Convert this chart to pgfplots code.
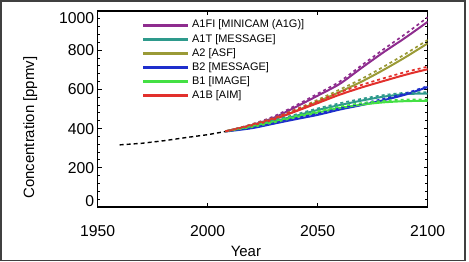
\documentclass[border=0pt]{standalone}
\usepackage{pgfplots}
\pgfplotsset{compat=1.18}
\usepackage{fontspec}
\setmainfont{Liberation Sans}

\definecolor{cA1FI}{HTML}{8E2C8E}
\definecolor{cA1T}{HTML}{2E9A8C}
\definecolor{cA2}{HTML}{9A9A36}
\definecolor{cB2}{HTML}{1E2ECC}
\definecolor{cB1}{HTML}{44E044}
\definecolor{cA1B}{HTML}{E2302C}

\begin{document}
\begin{tikzpicture}
\useasboundingbox (0,0) rectangle (469bp,262bp);
\begin{axis}[
  at={(97.7bp,55bp)}, anchor=south west,
  scale only axis, width=330bp, height=196bp,
  xmin=1950, xmax=2100, ymin=0, ymax=1000,
  xtick={1950,2000,2050,2100},
  ytick={0,200,...,1000},
  minor y tick num=4,
  tick align=inside,
  major tick length=4bp, minor tick length=2.5bp,
  axis line style={line width=1.3bp},
  every tick/.style={black, line width=1bp},
  /pgf/number format/assume math mode=true,
  /pgf/number format/1000 sep={},
  tick label style={font=\fontsize{15.8}{17}\selectfont},
  xticklabel style={yshift=-15bp},
  yticklabel={\ifnum\ticknum=0 \raisebox{6bp}[\height][\depth]{0}\else
    \ifnum\ticknum=5 \raisebox{-7bp}[\height][\depth]{1000}\else
    \pgfmathprintnumber{\tick}\fi\fi},
  xlabel={Year},
  ylabel={Concentration [ppmv]},
  label style={font=\fontsize{15}{17}\selectfont},
  xlabel style={at={(axis description cs:0.449,-0.226)}, anchor=center},
  ylabel style={at={(axis description cs:-0.204,0.405)}, anchor=center},
  legend style={draw=none, fill=none, at={(axis description cs:0.136,0.965)},
    anchor=north west, font=\fontsize{11}{12}\selectfont,
    row sep=0.7bp, inner sep=0pt},
  legend cell align=left,
  legend image code/.code={\fill[#1] (0bp,-1bp) rectangle (44bp,1bp);},
]
% legend keys
\addlegendimage{cA1FI}
\addlegendentry{\hspace{3bp}A1FI [MINICAM (A1G)]}
\addlegendimage{cA1T}
\addlegendentry{\hspace{3bp}A1T [MESSAGE]}
\addlegendimage{cA2}
\addlegendentry{\hspace{3bp}A2 [ASF]}
\addlegendimage{cB2}
\addlegendentry{\hspace{3bp}B2 [MESSAGE]}
\addlegendimage{cB1}
\addlegendentry{\hspace{3bp}B1 [IMAGE]}
\addlegendimage{cA1B}
\addlegendentry{\hspace{3bp}A1B [AIM]}

% observed record
\addplot[black, line width=1.4bp, dash pattern=on 4bp off 3bp, forget plot]
  coordinates {(1960,317) (1970,325) (1980,338) (1990,354) (2000,369) (2008,385)};

% scenario projections (solid)
\addplot[cA1FI, line width=2bp, smooth, forget plot] coordinates {
 (2008,386) (2020,418) (2030,455) (2040,510) (2050,568) (2060,628) (2070,710) (2080,790) (2090,865) (2100,945)};
\addplot[cA1T, line width=2bp, smooth, forget plot] coordinates {
 (2008,386) (2020,410) (2030,437) (2040,465) (2050,495) (2060,520) (2070,543) (2080,563) (2090,576) (2100,579)};
\addplot[cA2, line width=2bp, smooth, forget plot] coordinates {
 (2008,386) (2020,417) (2030,448) (2040,490) (2050,537) (2060,587) (2070,640) (2080,700) (2090,765) (2100,835)};
\addplot[cB2, line width=2bp, smooth, forget plot] coordinates {
 (2008,385) (2020,402) (2030,425) (2040,448) (2050,470) (2060,497) (2070,520) (2080,545) (2090,574) (2100,612)};
\addplot[cB1, line width=2bp, smooth, forget plot] coordinates {
 (2008,386) (2020,408) (2030,432) (2040,458) (2050,482) (2060,505) (2070,522) (2080,534) (2090,540) (2100,542)};
\addplot[cA1B, line width=2bp, smooth, forget plot] coordinates {
 (2008,386) (2020,416) (2030,447) (2040,488) (2050,530) (2060,573) (2070,610) (2080,643) (2090,675) (2100,703)};

% companion runs (dashed)
\addplot[cA1FI, line width=1.7bp, dash pattern=on 3bp off 3bp, smooth, forget plot] coordinates {
 (2010,390) (2020,422) (2030,462) (2040,518) (2050,578) (2060,640) (2070,723) (2080,805) (2090,884) (2100,968)};
\addplot[cA1T, line width=1.7bp, dash pattern=on 3bp off 3bp, smooth, forget plot] coordinates {
 (2010,390) (2020,414) (2030,442) (2040,472) (2050,503) (2060,529) (2070,552) (2080,571) (2090,583) (2100,586)};
\addplot[cA2, line width=1.7bp, dash pattern=on 3bp off 3bp, smooth, forget plot] coordinates {
 (2010,390) (2020,421) (2030,454) (2040,498) (2050,547) (2060,599) (2070,654) (2080,716) (2090,782) (2100,852)};
\addplot[cB2, line width=1.7bp, dash pattern=on 3bp off 3bp, smooth, forget plot] coordinates {
 (2010,389) (2020,405) (2030,429) (2040,453) (2050,476) (2060,503) (2070,527) (2080,552) (2090,580) (2100,617)};
\addplot[cB1, line width=1.7bp, dash pattern=on 3bp off 3bp, smooth, forget plot] coordinates {
 (2010,390) (2020,412) (2030,437) (2040,464) (2050,489) (2060,512) (2070,530) (2080,542) (2090,548) (2100,549)};
\addplot[cA1B, line width=1.7bp, dash pattern=on 3bp off 3bp, smooth, forget plot] coordinates {
 (2010,390) (2020,420) (2030,453) (2040,496) (2050,540) (2060,585) (2070,623) (2080,657) (2090,689) (2100,716)};
\end{axis}
\draw[black!75, line width=1.4bp] (1bp,1.5bp) rectangle (465bp,261bp);
\end{tikzpicture}
\end{document}
